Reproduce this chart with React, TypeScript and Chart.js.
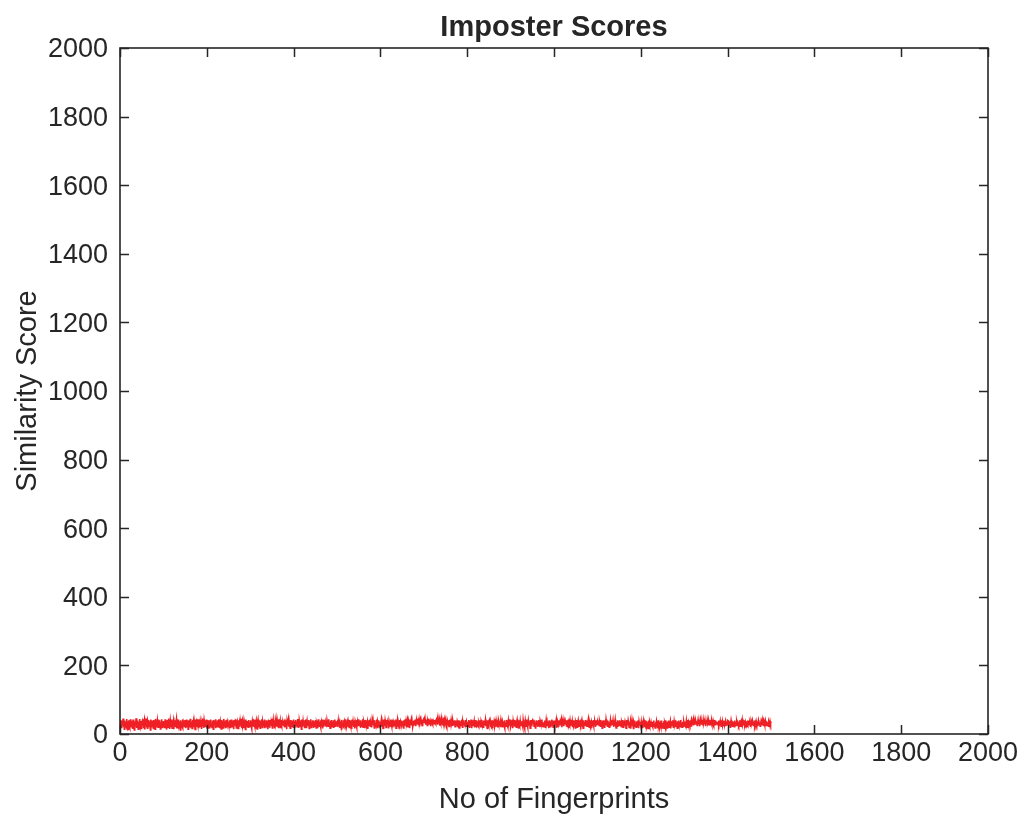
import { useEffect, useRef } from "react";
import { Chart, registerables } from "chart.js";

Chart.register(...registerables);

// Similarity score of each imposter comparison, fingerprint 1..1500
const imposterScores: number[] = [
  41,24,35,17,38,28,45,21,33,14,39,27,36,22,44,18,31,37,13,40,25,34,19,43,29,
  21,38,31,15,42,26,35,12,37,29,22,46,32,18,39,27,14,35,26,44,20,33,38,16,31,
  36,24,43,17,29,40,13,34,26,45,20,31,39,15,41,27,22,37,32,12,42,28,19,39,24,
  31,16,41,27,37,14,44,22,33,26,39,18,36,42,20,29,40,15,34,26,43,19,37,30,23,
  38,27,17,43,32,23,37,13,41,28,20,45,25,34,15,40,31,22,42,17,36,27,38,14,33,
  25,40,20,32,44,16,35,29,23,42,18,37,30,12,40,27,34,21,43,17,32,25,39,20,41,
  17,36,28,42,22,33,14,40,26,37,23,44,19,34,30,16,41,25,36,20,38,29,13,42,31,
  37,21,32,26,43,17,39,30,20,36,27,41,15,34,23,45,28,18,40,32,22,37,27,42,16,
  29,41,18,36,27,40,16,32,42,23,31,19,39,29,14,41,34,25,37,17,43,27,32,21,40,
  23,34,43,19,31,38,27,15,41,32,25,37,18,44,29,21,36,40,17,31,27,42,20,34,25,
  33,19,40,28,17,42,25,36,21,39,30,14,41,27,34,23,43,18,32,37,25,16,40,29,36,
  21,37,27,44,18,32,40,25,31,17,39,29,36,13,42,23,34,27,38,20,41,30,22,36,27,
  40,25,34,16,37,29,43,21,32,23,41,18,31,39,27,15,36,42,19,32,25,40,17,37,29,
  27,43,19,36,30,23,39,17,42,29,32,21,40,26,37,14,34,30,41,18,38,27,36,23,44,
  18,32,41,23,36,27,16,40,31,37,21,42,29,34,19,43,25,32,39,17,30,41,23,36,27,
  39,23,31,42,19,34,29,40,15,37,25,32,43,21,36,27,17,41,30,23,39,29,34,20,42,
  29,37,17,32,41,25,36,21,44,27,31,18,40,32,23,39,29,14,42,34,21,37,27,40,17,
  34,25,42,19,31,39,23,36,29,41,16,37,27,32,43,19,34,25,40,30,18,39,29,36,23,
  41,18,32,27,39,17,43,31,23,36,29,40,20,34,25,42,16,37,30,21,41,27,34,23,39,
  20,40,29,36,23,43,27,32,17,39,30,25,41,21,36,29,40,18,32,42,23,37,27,31,34,
  31,21,39,27,42,18,34,25,37,15,41,29,32,23,40,20,36,30,43,17,27,39,25,34,21,
  36,29,19,41,32,23,39,17,31,42,25,36,21,40,29,16,37,32,27,41,19,34,23,43,30,
  25,39,32,18,40,27,36,23,43,20,31,37,29,17,41,32,21,39,27,36,15,40,31,25,37,
  42,23,34,29,19,39,31,41,25,36,18,40,27,32,21,42,29,37,17,32,40,25,36,21,31,
  32,40,21,37,29,17,42,27,34,23,39,31,19,41,25,36,29,40,16,37,27,32,23,42,29,
  23,31,41,19,36,32,25,39,29,42,17,34,27,40,21,37,31,18,41,29,36,23,39,27,32,
  37,27,18,40,31,23,43,25,36,20,32,41,29,21,39,34,17,42,27,32,40,25,37,31,21,
  29,39,32,25,42,36,23,40,31,44,27,37,32,41,22,36,43,29,39,31,25,42,34,40,32,
  40,32,43,27,37,31,41,25,39,34,45,29,36,42,31,23,40,37,32,43,27,39,36,30,41,
  33,42,29,39,32,40,27,44,36,30,41,24,37,32,43,29,39,34,25,40,36,42,31,37,29,
  39,31,25,41,36,29,40,32,22,42,34,27,39,31,37,23,41,32,36,27,40,21,34,39,29,
  27,37,32,22,40,31,18,39,29,36,25,42,32,20,37,31,40,27,34,23,41,29,36,21,32,
  36,23,41,29,20,39,32,25,42,17,36,31,23,40,29,37,19,32,41,27,21,39,31,36,25,
  21,34,27,40,31,19,37,29,41,25,32,20,39,27,36,31,42,23,34,29,17,40,32,25,37,
  41,29,36,20,32,40,25,31,17,39,27,36,43,23,32,21,37,29,40,19,34,27,39,31,23,
  31,20,39,27,42,21,34,29,37,25,40,17,32,31,23,41,27,36,21,39,29,34,25,42,20,
  25,40,31,36,17,37,29,41,21,32,27,39,20,36,42,25,31,18,40,32,27,37,23,34,29,
  37,27,21,41,32,25,36,16,39,31,23,42,29,34,20,40,32,27,37,17,41,31,25,36,39,
  29,36,42,23,31,39,18,34,27,40,32,21,37,25,41,29,20,39,31,36,23,42,27,32,21,
  34,25,32,39,20,29,41,31,37,23,36,27,17,40,31,21,37,32,25,42,29,36,20,39,31,
  23,39,29,34,41,18,32,27,37,31,21,40,29,36,25,32,42,20,34,27,39,31,23,37,29,
  36,27,40,21,31,37,25,42,17,34,29,39,32,23,41,27,36,20,40,31,25,32,39,18,34,
  29,41,20,36,27,40,32,23,39,31,42,25,34,21,37,29,17,40,32,25,36,27,41,31,21,
  39,23,32,42,29,20,36,31,40,25,34,18,39,29,32,23,41,27,37,31,21,40,34,25,36,
  27,34,40,25,37,31,21,41,29,36,17,39,31,27,40,20,32,36,25,42,29,34,23,39,31,
  32,20,36,29,41,23,39,27,34,31,40,21,37,25,32,42,29,18,36,31,23,40,27,37,25,
  40,31,25,37,21,34,29,41,20,39,27,32,23,36,31,17,41,29,34,25,39,32,20,36,29,
  18,37,31,23,40,27,36,16,34,29,39,23,32,20,37,27,31,21,40,17,36,25,32,29,23,
  34,21,39,27,17,36,25,32,20,40,29,18,37,23,31,34,16,39,27,21,36,29,20,32,25,
  25,36,20,31,39,23,29,18,34,27,37,21,32,17,40,25,31,36,20,29,23,39,27,18,32,
  31,23,37,17,32,27,40,21,29,36,18,34,25,39,20,31,27,37,16,36,23,32,29,40,20,
  21,36,27,32,20,40,25,31,17,37,29,23,39,27,34,21,41,25,32,20,36,29,23,37,31,
  36,25,32,21,39,29,20,41,31,23,36,32,27,40,25,34,21,37,31,27,40,25,36,29,39,
  27,39,31,37,25,34,42,29,36,32,23,39,31,41,27,37,32,25,40,31,36,29,39,23,34,
  37,29,40,32,36,25,39,31,41,27,34,37,29,40,32,23,37,31,36,41,27,34,39,29,32,
  31,36,27,39,23,32,29,37,25,40,31,21,36,27,32,39,25,34,29,37,23,31,36,27,40,
  39,25,34,29,37,20,31,40,27,32,23,37,29,36,21,31,39,25,34,27,37,31,23,32,29,
  25,32,40,23,31,36,27,20,39,29,34,25,32,40,27,36,31,21,37,29,25,34,31,39,27,
  34,29,21,37,27,32,40,31,25,36,29,39,23,32,27,37,31,25,36,29,40,32,27,34,23,
  29,37,31,25,39,27,34,23,36,31,27,39,32,25,37,29,34,31,23,36,32,27,37,31,36,
];

const xTickValues = [0, 200, 400, 600, 800, 1000, 1200, 1400, 1600, 1800, 2000];
const yTickValues = [0, 200, 400, 600, 800, 1000, 1200, 1400, 1600, 1800, 2000];

const chartTitle = "Imposter Scores";
const xAxisTitle = "No of Fingerprints";
const yAxisTitle = "Similarity Score";

const INK = "#262626";
const FONT = "'Liberation Sans', Arial, Helvetica, sans-serif";

// Axes box with inward tick marks on all four sides
const boxAxesPlugin = {
  id: "boxAxes",
  afterDraw(chart: Chart) {
    const { ctx, chartArea: a, scales } = chart;
    const xs = scales.x;
    const ys = scales.y;
    const tick = 9;
    ctx.save();
    ctx.strokeStyle = INK;
    ctx.lineWidth = 1.5;
    ctx.beginPath();
    for (const v of xTickValues) {
      const px = Math.round(xs.getPixelForValue(v)) + 0.5;
      ctx.moveTo(px, a.bottom);
      ctx.lineTo(px, a.bottom - tick);
      ctx.moveTo(px, a.top);
      ctx.lineTo(px, a.top + tick);
    }
    for (const v of yTickValues) {
      const py = Math.round(ys.getPixelForValue(v)) + 0.5;
      ctx.moveTo(a.left, py);
      ctx.lineTo(a.left + tick, py);
      ctx.moveTo(a.right, py);
      ctx.lineTo(a.right - tick, py);
    }
    ctx.stroke();
    ctx.lineWidth = 1.6;
    ctx.strokeRect(a.left, a.top, a.right - a.left, a.bottom - a.top);
    ctx.restore();
  },
};

const plainLabel = (v: string | number) => String(v);

export default function App() {
  const canvasRef = useRef<HTMLCanvasElement | null>(null);

  useEffect(() => {
    const canvas = canvasRef.current;
    if (!canvas) return;
    const points = imposterScores.map((s, i) => ({ x: i + 1, y: s }));
    const chart = new Chart(canvas, {
      type: "line",
      data: {
        datasets: [
          {
            label: chartTitle,
            data: points,
            borderColor: "#ee2026",
            borderWidth: 1.6,
            pointRadius: 0,
            tension: 0,
            fill: false,
          },
        ],
      },
      options: {
        animation: false,
        responsive: false,
        devicePixelRatio: 1,
        events: [],
        layout: { padding: { left: 0, top: 0, right: 36, bottom: 0 } },
        plugins: {
          legend: { display: false },
          tooltip: { enabled: false },
          title: {
            display: true,
            fullSize: false,
            text: chartTitle,
            color: INK,
            font: { family: FONT, size: 29, weight: "bold", lineHeight: 1.2 },
            padding: { top: 11, bottom: 2.2 },
          },
        },
        scales: {
          x: {
            type: "linear",
            min: 0,
            max: 2000,
            afterBuildTicks: (scale: any) => {
              scale.ticks = xTickValues.map((v) => ({ value: v }));
            },
            afterFit: (scale: any) => {
              scale.height = 87;
            },
            grid: { display: false, drawTicks: false },
            border: { display: false },
            ticks: {
              autoSkip: false,
              maxRotation: 0,
              padding: 3,
              color: INK,
              font: { family: FONT, size: 27 },
              callback: plainLabel,
            },
            title: {
              display: true,
              text: xAxisTitle,
              color: INK,
              font: { family: FONT, size: 29, lineHeight: 1.2 },
              padding: { top: 0, bottom: 3.6 },
            },
          },
          y: {
            type: "linear",
            min: 0,
            max: 2000,
            afterBuildTicks: (scale: any) => {
              scale.ticks = yTickValues.map((v) => ({ value: v }));
            },
            afterFit: (scale: any) => {
              scale.width = 120;
            },
            grid: { display: false, drawTicks: false },
            border: { display: false },
            ticks: {
              autoSkip: false,
              padding: 12,
              labelOffset: 2,
              color: INK,
              font: { family: FONT, size: 27 },
              callback: plainLabel,
            },
            title: {
              display: true,
              text: yAxisTitle,
              color: INK,
              font: { family: FONT, size: 29, lineHeight: 1.2 },
              padding: { top: 10.5, bottom: 0 },
            },
          },
        },
      },
      plugins: [boxAxesPlugin],
    });
    return () => chart.destroy();
  }, []);

  return (
    <div style={{ position: "absolute", left: 0, top: 0, width: 1024, height: 821, background: "#fff" }}>
      <canvas ref={canvasRef} width={1024} height={821} style={{ width: 1024, height: 821 }} />
    </div>
  );
}
